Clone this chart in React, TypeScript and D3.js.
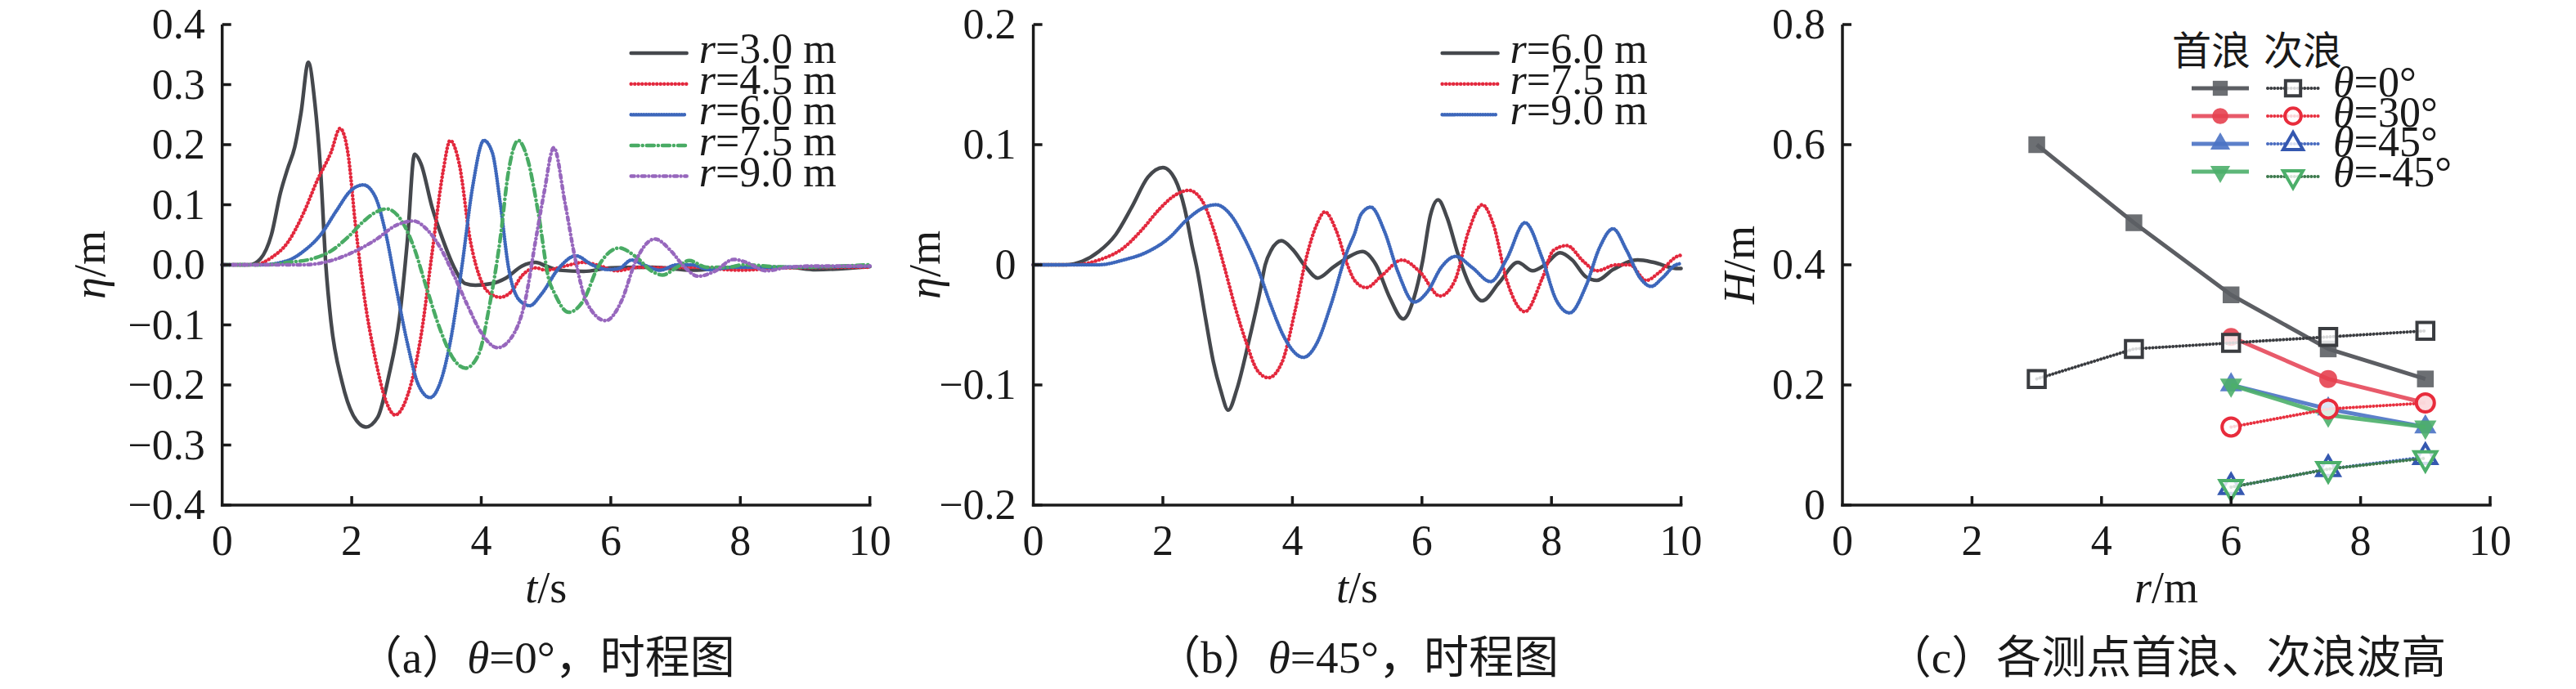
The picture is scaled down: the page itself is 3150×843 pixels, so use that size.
import React from "react";
import * as d3 from "d3";

type Pt = [number, number];

// ---------- data: (a) θ=0°, η(t) at each gauge ----------
const aNames = ["3.0", "4.5", "6.0", "7.5", "9.0"];
const aR30: Pt[] = [
  [0, 0], [0.42, 0], [0.59, 0.01], [0.76, 0.05], [0.9, 0.12], [1.01, 0.16], [1.12, 0.196],
  [1.22, 0.255], [1.33, 0.337], [1.43, 0.27], [1.52, 0.155], [1.6, 0], [1.68, -0.095],
  [1.85, -0.195], [2.02, -0.25], [2.22, -0.27], [2.4, -0.254], [2.57, -0.186], [2.74, -0.086],
  [2.86, 0.041], [2.97, 0.184], [3.07, 0.168], [3.24, 0.096], [3.41, 0.041], [3.58, -0.004],
  [3.75, -0.031], [3.91, -0.034], [4.17, -0.031], [4.38, -0.022], [4.63, -0.002], [4.84, 0.004],
  [5.0, -0.002], [5.21, -0.009], [5.58, -0.011], [6.0, -0.005], [6.64, -0.004], [7.27, -0.009],
  [7.9, -0.004], [8.74, -0.004], [9.16, -0.008], [10, -0.003],
];
const aR45: Pt[] = [
  [0, 0], [0.5, 0], [0.76, 0.012], [1.01, 0.037], [1.26, 0.087], [1.47, 0.141], [1.68, 0.187],
  [1.82, 0.227], [1.94, 0.187], [2.06, 0.064], [2.19, -0.05], [2.36, -0.154], [2.53, -0.227],
  [2.67, -0.25], [2.86, -0.218], [3.07, -0.118], [3.24, 0.019], [3.41, 0.155], [3.52, 0.207],
  [3.66, 0.168], [3.83, 0.041], [4.0, -0.027], [4.17, -0.05], [4.29, -0.054], [4.46, -0.045],
  [4.63, -0.018], [4.84, -0.005], [5.0, -0.009], [5.29, -0.002], [5.58, 0.004], [5.84, -0.002],
  [6.09, -0.01], [6.43, -0.004], [6.85, -0.005], [7.27, -0.004], [7.98, -0.009], [8.74, -0.005],
  [10, -0.004],
];
const aR60: Pt[] = [
  [0, 0], [0.6, 0], [1.01, 0.007], [1.26, 0.023], [1.52, 0.05], [1.77, 0.091], [1.98, 0.123],
  [2.18, 0.133], [2.36, 0.114], [2.53, 0.05], [2.69, -0.04], [2.86, -0.131], [3.03, -0.2],
  [3.21, -0.221], [3.37, -0.195], [3.54, -0.118], [3.7, -0.004], [3.87, 0.132], [4.04, 0.207],
  [4.17, 0.187], [4.29, 0.105], [4.42, -0.004], [4.59, -0.059], [4.75, -0.068], [4.92, -0.05],
  [5.21, -0.004], [5.46, 0.015], [5.71, 0], [5.96, -0.008], [6.13, -0.006], [6.32, 0.008],
  [6.51, 0], [6.76, -0.009], [7.02, 0], [7.25, 0], [7.52, -0.008], [7.9, -0.004], [8.32, -0.004],
  [10, -0.002],
];
const aR75: Pt[] = [
  [0, 0], [0.7, 0], [1.01, 0.004], [1.39, 0.01], [1.68, 0.023], [1.94, 0.046], [2.19, 0.073],
  [2.36, 0.087], [2.54, 0.093], [2.74, 0.078], [2.95, 0.032], [3.16, -0.04], [3.37, -0.109],
  [3.58, -0.158], [3.76, -0.172], [3.96, -0.149], [4.12, -0.072], [4.29, 0.041], [4.42, 0.155],
  [4.57, 0.207], [4.71, 0.178], [4.88, 0.087], [5.05, -0.027], [5.12, -0.045], [5.35, -0.079],
  [5.58, -0.059], [5.8, -0.004], [6.13, 0.028], [6.38, 0.014], [6.64, -0.011], [6.8, -0.017],
  [7.02, -0.004], [7.21, 0.007], [7.48, -0.004], [7.82, -0.004], [8.03, 0], [8.74, -0.004],
  [10, 0],
];
const aR90: Pt[] = [
  [0, 0], [1.26, 0], [1.68, 0.007], [2.02, 0.021], [2.36, 0.041], [2.69, 0.066], [2.95, 0.073],
  [3.16, 0.059], [3.37, 0.028], [3.58, -0.018], [3.79, -0.068], [4.0, -0.113], [4.25, -0.138],
  [4.46, -0.122], [4.67, -0.064], [4.84, 0.041], [4.97, 0.12], [5.12, 0.195], [5.29, 0.105],
  [5.46, 0.005], [5.63, -0.063], [5.92, -0.093], [6.17, -0.059], [6.38, 0.005], [6.68, 0.043],
  [6.93, 0.023], [7.14, -0.004], [7.35, -0.019], [7.6, -0.011], [7.9, 0.009], [8.07, 0.005],
  [8.4, -0.01], [8.74, -0.004], [9.16, -0.002], [10, -0.002],
];

// ---------- data: (b) θ=45° ----------
const bNames = ["6.0", "7.5", "9.0"];
const bR60: Pt[] = [
  [0, 0], [0.5, 0], [0.76, 0.003], [1.01, 0.011], [1.27, 0.025], [1.52, 0.048], [1.77, 0.073],
  [2.0, 0.081], [2.19, 0.071], [2.34, 0.046], [2.45, 0.016], [2.53, -0.004], [2.66, -0.045],
  [2.78, -0.081], [2.89, -0.104], [3.01, -0.121], [3.14, -0.104], [3.33, -0.063], [3.5, -0.022],
  [3.58, 0], [3.67, 0.012], [3.83, 0.02], [4.0, 0.013], [4.21, -0.002], [4.39, -0.011],
  [4.63, -0.002], [4.85, 0.006], [5.08, 0.011], [5.29, 0], [5.5, -0.027], [5.71, -0.045],
  [5.88, -0.027], [6.01, 0.003], [6.13, 0.041], [6.25, 0.054], [6.39, 0.039], [6.55, 0.01],
  [6.72, -0.015], [6.93, -0.03], [7.19, -0.015], [7.48, 0.002], [7.71, -0.005], [7.9, 0],
  [8.13, 0.01], [8.32, 0.004], [8.53, -0.01], [8.7, -0.013], [8.95, -0.004], [9.33, 0.004],
  [9.58, 0.002], [9.92, -0.003], [10, -0.003],
];
const bR75: Pt[] = [
  [0, 0], [0.64, 0], [1.01, 0.004], [1.39, 0.014], [1.69, 0.03], [1.94, 0.046], [2.19, 0.058],
  [2.4, 0.062], [2.61, 0.053], [2.78, 0.03], [2.95, -0.002], [3.12, -0.036], [3.29, -0.065],
  [3.46, -0.088], [3.63, -0.094], [3.84, -0.081], [4.05, -0.036], [4.21, 0.005], [4.38, 0.034],
  [4.5, 0.044], [4.68, 0.028], [4.85, 0], [4.96, -0.013], [5.14, -0.019], [5.38, -0.009],
  [5.69, 0.004], [5.97, -0.006], [6.28, -0.026], [6.51, -0.013], [6.72, 0.028], [6.93, 0.05],
  [7.1, 0.034], [7.31, -0.013], [7.59, -0.039], [7.86, -0.011], [8.03, 0.012], [8.24, 0.016],
  [8.49, 0.003], [8.7, -0.005], [9.0, 0], [9.21, 0], [9.46, -0.013], [9.67, -0.006],
  [9.94, 0.007], [10, 0.008],
];
const bR90: Pt[] = [
  [0, 0], [1.01, 0], [1.39, 0.004], [1.77, 0.011], [2.11, 0.023], [2.36, 0.037], [2.61, 0.047],
  [2.82, 0.05], [3.04, 0.042], [3.25, 0.023], [3.46, -0.002], [3.67, -0.034], [3.88, -0.061],
  [4.17, -0.077], [4.38, -0.065], [4.59, -0.034], [4.85, 0.012], [4.96, 0.026], [5.06, 0.042],
  [5.21, 0.048], [5.42, 0.028], [5.63, -0.006], [5.88, -0.031], [6.09, -0.022], [6.3, -0.002],
  [6.52, 0.007], [6.77, -0.002], [7.06, -0.014], [7.31, 0.005], [7.59, 0.035], [7.86, 0.005],
  [8.07, -0.029], [8.28, -0.04], [8.53, -0.018], [8.74, 0.014], [8.95, 0.03], [9.16, 0.012],
  [9.37, -0.011], [9.54, -0.018], [9.71, -0.011], [9.92, 0], [10, 0.001],
];

// ---------- data: (c) wave heights ----------
const rAll = [3, 4.5, 6, 7.5, 9];
const rSub = [6, 7.5, 9];
const angleNames = ["0°", "30°", "45°", "-45°"];
const firstWave = [
  [0.6, 0.47, 0.35, 0.26, 0.21],
  [0.28, 0.21, 0.17],
  [0.2, 0.16, 0.13],
  [0.2, 0.15, 0.13],
];
const secondWave = [
  [0.21, 0.26, 0.27, 0.28, 0.29],
  [0.13, 0.16, 0.17],
  [0.03, 0.06, 0.08],
  [0.03, 0.06, 0.078],
];

const tTicks = [0, 2, 4, 6, 8, 10];
const aTicks = [-0.4, -0.3, -0.2, -0.1, 0, 0.1, 0.2, 0.3, 0.4];
const bTicks = [-0.2, -0.1, 0, 0.1, 0.2];
const cTicks = [0, 0.2, 0.4, 0.6, 0.8];

// ---------- styling ----------
const SERIF = '"Liberation Serif", "Times New Roman", Times, serif';
const CJK = '"Noto Sans CJK SC", "Noto Sans CJK JP", sans-serif';
const INK = "#1a1a1a";
const lineStyles = [
  { color: "#45484d", dash: undefined },
  { color: "#e3283d", dash: "0.1 4.4" },
  { color: "#3d67bb", dash: "0.1 3" },
  { color: "#49ab64", dash: "9 5 0.1 5" },
  { color: "#9767bd", dash: "4 4.5 0.1 4.5" },
];
const cStyles = [
  { first: "#4a4d52", fill: "#5c5f64", second: "#3a3c40", hollow: "#3a3c40", sym: d3.symbolSquare, rot: 0, size: 420 },
  { first: "#e6485a", fill: "#e6404f", second: "#e8303f", hollow: "#e82c3c", sym: d3.symbolCircle, rot: 0, size: 380 },
  { first: "#4a72c4", fill: "#4a72c4", second: "#4a6cc0", hollow: "#3558b0", sym: d3.symbolTriangle, rot: 0, size: 320 },
  { first: "#4caf6a", fill: "#4caf6a", second: "#3d7a4d", hollow: "#4caf6a", sym: d3.symbolTriangle, rot: 180, size: 320 },
];

const W = 3150;
const H = 843;
const TOP = 30;
const BOTTOM = 618;
const PW = 792;
const X0 = [271.7, 1263.6, 2253];
const TICK = 11;
const FS_TICK = 52;
const FS_LEG = 52;
const FS_AX = 54;
const FS_CAP = 55;

const fmtA = (v: number) => d3.format(".1f")(v);
const fmtB = (v: number) => (v === 0 ? "0" : d3.format(".1f")(v));

const fs = (n: number, family = SERIF) => ({ fontSize: `${n}px`, fontFamily: family });

function Axes({ x, y, yTicks, fmt }: { x: d3.ScaleLinear<number, number>; y: d3.ScaleLinear<number, number>; yTicks: number[]; fmt: (v: number) => string }) {
  const [xa, xb] = x.range();
  return (
    <g stroke={INK} strokeWidth={3.5}>
      <line x1={xa} x2={xa} y1={TOP} y2={BOTTOM + 1.75} />
      <line x1={xa - 1.75} x2={xb + 1.75} y1={BOTTOM} y2={BOTTOM} />
      {yTicks.map((v) => (
        <g key={"y" + v}>
          <line x1={xa} x2={xa + TICK} y1={y(v)} y2={y(v)} />
          <text x={xa - 21} y={y(v) + 17} textAnchor="end" stroke="none" fill={INK} style={fs(FS_TICK)}>
            {fmt(v)}
          </text>
        </g>
      ))}
      {tTicks.map((v) => (
        <g key={"x" + v}>
          {v > 0 && <line x1={x(v)} x2={x(v)} y1={BOTTOM} y2={BOTTOM - TICK} />}
          <text x={x(v)} y={BOTTOM + 61} textAnchor="middle" stroke="none" fill={INK} style={fs(FS_TICK)}>
            {v}
          </text>
        </g>
      ))}
    </g>
  );
}

function Caption({ cx, tag, children }: { cx: number; tag: string; children: React.ReactNode }) {
  return (
    <text x={cx} y={823} textAnchor="middle" fill={INK} style={fs(FS_CAP)}>
      <tspan style={{ fontFamily: CJK }}>（</tspan>
      {tag}
      <tspan style={{ fontFamily: CJK }}>）</tspan>
      {children}
    </text>
  );
}

function TimePanel({ idx, yDomain, yTicks, fmt, series, names, yLabelOff, tag, angle }: {
  idx: number; yDomain: [number, number]; yTicks: number[]; fmt: (v: number) => string;
  series: Pt[][]; names: string[]; yLabelOff: number; tag: string; angle: string;
}) {
  const x0 = X0[idx];
  const x = d3.scaleLinear().domain([0, 10]).range([x0, x0 + PW]);
  const y = d3.scaleLinear().domain(yDomain).range([BOTTOM, TOP]);
  const line = d3.line<Pt>().x((d) => x(d[0])).y((d) => y(d[1])).curve(d3.curveMonotoneX);
  const lx = x0 + PW - 292;
  const cx = x0 + PW / 2;
  return (
    <g>
      {series.map((s, i) => (
        <path key={i} d={line(s) ?? ""} fill="none" stroke={lineStyles[i].color} strokeWidth={4.5}
          strokeDasharray={lineStyles[i].dash} strokeLinecap="round" strokeLinejoin="round" />
      ))}
      <Axes x={x} y={y} yTicks={yTicks} fmt={fmt} />
      {names.map((n, i) => {
        const ly = 65 + i * 37.65;
        return (
          <g key={n}>
            <line x1={lx} x2={lx + 68} y1={ly} y2={ly} stroke={lineStyles[i].color} strokeWidth={4.5}
              strokeDasharray={lineStyles[i].dash} strokeLinecap="round" />
            <text x={lx + 83} y={ly + 12} fill={INK} style={fs(FS_LEG)}>
              <tspan fontStyle="italic">r</tspan>={n} m
            </text>
          </g>
        );
      })}
      <text transform={`translate(${x0 - yLabelOff},${(TOP + BOTTOM) / 2}) rotate(-90)`} textAnchor="middle"
        fill={INK} style={fs(FS_AX)}>
        <tspan fontStyle="italic">η</tspan>/m
      </text>
      <text x={cx} y={737} textAnchor="middle" fill={INK} style={fs(FS_AX)}>
        <tspan fontStyle="italic">t</tspan>/s
      </text>
      <Caption cx={cx} tag={tag}>
        <tspan fontStyle="italic">θ</tspan>={angle}
        <tspan style={{ fontFamily: CJK }}>，时程图</tspan>
      </Caption>
    </g>
  );
}

function HeightPanel() {
  const x0 = X0[2];
  const x = d3.scaleLinear().domain([0, 10]).range([x0, x0 + PW]);
  const y = d3.scaleLinear().domain([0, 0.8]).range([BOTTOM, TOP]);
  const line = d3.line<[number, number]>().x((d) => x(d[0])).y((d) => y(d[1]));
  const cx = x0 + PW / 2;
  const pts = (vals: number[]) => vals.map((v, i) => [(vals.length === 5 ? rAll : rSub)[i], v] as [number, number]);
  const sym = (k: number, scale = 1) => d3.symbol(cStyles[k].sym, cStyles[k].size * scale)() ?? "";

  const lgX = x0 + 403;
  return (
    <g>
      {firstWave.map((vals, k) => (
        <g key={"f" + k}>
          <path d={line(pts(vals)) ?? ""} fill="none" stroke={cStyles[k].first} strokeWidth={5} strokeOpacity={0.9} strokeLinejoin="round" />
          {pts(vals).map((p, i) => (
            <path key={i} d={sym(k)} transform={`translate(${x(p[0])},${y(p[1])}) rotate(${cStyles[k].rot})`}
              fill={cStyles[k].fill} fillOpacity={0.9} />
          ))}
        </g>
      ))}
      {secondWave.map((vals, k) => (
        <g key={"s" + k}>
          <path d={line(pts(vals)) ?? ""} fill="none" stroke={cStyles[k].second} strokeWidth={4}
            strokeDasharray="0.1 4" strokeLinecap="round" />
          {pts(vals).map((p, i) => (
            <path key={i} d={sym(k)} transform={`translate(${x(p[0])},${y(p[1])}) rotate(${cStyles[k].rot})`}
              fill="#ffffff" fillOpacity={0.8} stroke={cStyles[k].hollow} strokeWidth={4} />
          ))}
        </g>
      ))}
      <Axes x={x} y={y} yTicks={cTicks} fmt={fmtB} />

      <text x={lgX} y={79} fill={INK} style={fs(48, CJK)}>首浪</text>
      <text x={lgX + 112} y={79} fill={INK} style={fs(48, CJK)}>次浪</text>
      {angleNames.map((n, k) => {
        const ly = 108 + k * 34;
        const ty = 118 + k * 36.5;
        const dy = k === 3 ? 6 : 0;
        const mx1 = lgX + 59;
        const mx2 = lgX + 148;
        return (
          <g key={n}>
            <line x1={lgX + 24} x2={lgX + 94} y1={ly} y2={ly} stroke={cStyles[k].first} strokeWidth={5} strokeOpacity={0.9} />
            <path d={sym(k, 0.8)} transform={`translate(${mx1},${ly}) rotate(${cStyles[k].rot})`} fill={cStyles[k].fill} fillOpacity={0.9} />
            <line x1={lgX + 117} x2={lgX + 179} y1={ly + dy} y2={ly + dy} stroke={cStyles[k].second}
              strokeWidth={4} strokeDasharray="0.1 4" strokeLinecap="round" />
            <path d={sym(k, 0.8)} transform={`translate(${mx2},${ly + dy}) rotate(${cStyles[k].rot})`}
              fill="#ffffff" fillOpacity={0.8} stroke={cStyles[k].hollow} strokeWidth={4} />
            <text x={lgX + 197} y={ty} fill={INK} style={fs(FS_LEG)}>
              <tspan fontStyle="italic">θ</tspan>={n}
            </text>
          </g>
        );
      })}

      <text transform={`translate(${x0 - 108},${(TOP + BOTTOM) / 2}) rotate(-90)`} textAnchor="middle"
        fill={INK} style={fs(FS_AX)}>
        <tspan fontStyle="italic">H</tspan>/m
      </text>
      <text x={cx} y={737} textAnchor="middle" fill={INK} style={fs(FS_AX)}>
        <tspan fontStyle="italic">r</tspan>/m
      </text>
      <Caption cx={cx} tag="c">
        <tspan style={{ fontFamily: CJK }}>各测点首浪、次浪波高</tspan>
      </Caption>
    </g>
  );
}

export default function App() {
  return (
    <div style={{ position: "absolute", left: 0, top: 0 }}>
      <svg width={W} height={H} viewBox={`0 0 ${W} ${H}`} style={{ display: "block", background: "#fff" }}>
        <rect width={W} height={H} fill="#fff" />
        <TimePanel idx={0} yDomain={[-0.4, 0.4]} yTicks={aTicks} fmt={fmtA}
          series={[aR30, aR45, aR60, aR75, aR90]} names={aNames} yLabelOff={144} tag="a" angle="0°" />
        <TimePanel idx={1} yDomain={[-0.2, 0.2]} yTicks={bTicks} fmt={fmtB}
          series={[bR60, bR75, bR90]} names={bNames} yLabelOff={115} tag="b" angle="45°" />
        <HeightPanel />
      </svg>
    </div>
  );
}
